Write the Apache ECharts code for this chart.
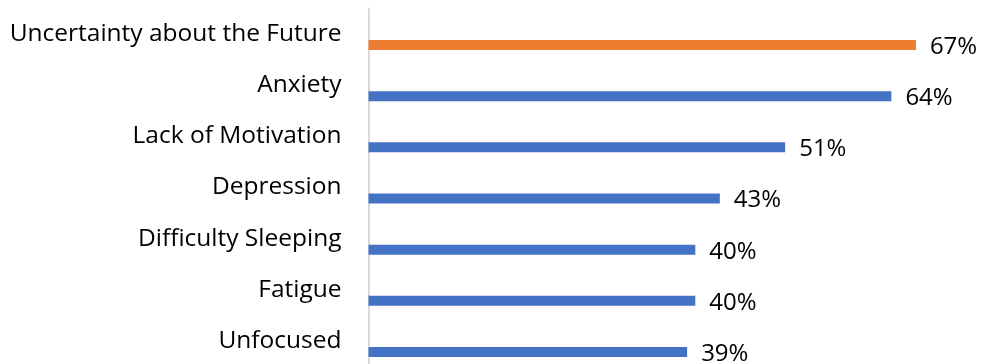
<!DOCTYPE html>
<html>
<head>
<meta charset="utf-8">
<script src="https://cdn.jsdelivr.net/npm/echarts@6/dist/echarts.min.js"></script>
<style>
html,body{margin:0;padding:0;background:#fff;}
#c{width:984px;height:364px;}
</style>
</head>
<body>
<div id="c"></div>
<script>
const categories = ["Uncertainty about the Future","Anxiety","Lack of Motivation","Depression","Difficulty Sleeping","Fatigue","Unfocused"];
const values = [67, 64, 51, 43, 40, 40, 39];
const highlightIndex = 0;

const FONT = '"Open Sans", sans-serif';
const chart = echarts.init(document.getElementById('c'), null, {renderer:'canvas'});
chart.setOption({
  animation:false,
  backgroundColor:'#fff',
  grid:{left:368.5, top:8.4, width:571.9, height:358.2, containLabel:false, outerBoundsMode:'none'},
  xAxis:{type:'value', min:0, max:70, show:false, splitLine:{show:false}},
  yAxis:{
    type:'category', data:categories, inverse:true,
    axisLine:{show:true, lineStyle:{color:'#D9D9D9', width:2}},
    axisTick:{show:false},
    axisLabel:{color:'#000', fontFamily:FONT, fontSize:24.5, margin:27}
  },
  series:[
    {type:'bar', name:'spacer', data:categories.map(()=>null), barWidth:10, barGap:'120%', silent:true},
    {type:'bar', name:'Share', barWidth:10, barGap:'120%',
     data:values.map((v,i)=>({value:v, itemStyle:{color: i===highlightIndex ? '#ED7D31' : '#4472C4'}})),
     label:{show:true, position:'right', distance:14, offset:[0,2], formatter:'{c}%', color:'#000', fontFamily:FONT, fontSize:24}
    }
  ]
});
</script>
</body>
</html>
